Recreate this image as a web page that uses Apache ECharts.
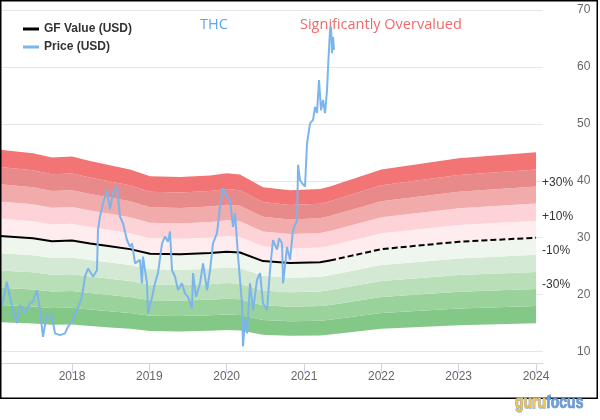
<!DOCTYPE html>
<html><head><meta charset="utf-8">
<script src="https://cdn.jsdelivr.net/npm/echarts@6/dist/echarts.min.js"></script>
<style>html,body{margin:0;padding:0;background:#fff}#c{width:600px;height:420px}</style>
</head><body><div id="c"></div>
<script>
// ---- data (decimal years) ----
const priceYears = [2017.069,2017.112,2017.156,2017.198,2017.237,2017.289,2017.327,2017.392,2017.457,2017.496,
2017.547,2017.586,2017.625,2017.677,2017.741,2017.780,2017.845,2017.909,2017.948,2018.000,
2018.065,2018.129,2018.168,2018.207,2018.272,2018.323,2018.336,2018.362,2018.401,2018.453,
2018.491,2018.530,2018.556,2018.582,2018.621,2018.660,2018.711,2018.750,2018.776,2018.815,
2018.879,2018.905,2018.918,2018.970,2018.983,2019.035,2019.073,2019.112,2019.164,2019.203,
2019.241,2019.267,2019.293,2019.332,2019.371,2019.422,2019.461,2019.500,2019.552,2019.565,
2019.604,2019.655,2019.694,2019.746,2019.785,2019.823,2019.875,2019.914,2019.953,2020.004,
2020.043,2020.082,2020.108,2020.147,2020.198,2020.211,2020.237,2020.263,2020.302,2020.341,
2020.392,2020.431,2020.470,2020.522,2020.560,2020.599,2020.651,2020.677,2020.716,2020.729,
2020.780,2020.819,2020.858,2020.910,2020.923,2020.948,2020.974,2021.013,2021.039,2021.078,
2021.117,2021.142,2021.168,2021.194,2021.220,2021.246,2021.272,2021.298,2021.311,2021.336,
2021.349,2021.362,2021.375,2021.388];
const priceValues = [17.5,19.1,22.3,19.6,17.3,15.0,18.2,16.7,18.5,18.8,
20.8,17.3,12.6,16.7,16.1,13.2,12.9,13.2,14.4,15.3,
17.3,19.6,23.2,24.6,23.2,24.3,31.4,33.7,36.0,38.4,
35.0,37.8,38.4,39.0,33.7,32.5,29.6,28.4,29.0,25.5,
26.1,22.0,26.7,22.0,16.7,19.6,22.0,23.8,29.0,30.2,
29.3,31.1,24.3,23.2,20.8,22.0,20.2,19.6,17.6,23.8,
19.6,22.0,25.5,20.8,24.3,29.0,30.8,35.5,38.7,37.2,
36.6,31.9,34.3,26.7,18.5,10.9,15.6,13.2,22.0,17.3,
22.6,23.8,18.5,17.3,24.3,29.6,27.9,29.9,29.0,22.0,
28.4,26.1,31.4,33.1,42.8,40.1,39.6,39.0,46.6,50.1,
50.7,53.0,51.9,57.7,52.4,54.2,51.9,56.0,60.0,66.5,
67.1,62.4,65.3,63.0];
const gfYears  = [2017.069,2017.496,2017.741,2018.000,2018.233,2018.491,2018.750,2019.009,2019.400,2019.785,
2020.000,2020.172,2020.470,2020.819,2021.207,2021.336,2022.000,2023.000,2024.000];
const gfValues = [30.3,29.9,29.4,29.5,29.0,28.5,28.0,27.2,27.1,27.3,
27.55,27.4,25.9,25.55,25.7,26.0,28.0,29.3,30.0];
const gfEstimateFrom = 2021.336;
const yearTicks  = [2018,2019,2020,2021,2022,2023,2024];
const valueTicks = [10,20,30,40,50,60,70];
const bandLevels = [0.5,0.6,0.7,0.8,0.9,1.0,1.1,1.2,1.3,1.4,1.5];
const bandColors = ['#83c886','#9ad29b','#b8dfb8','#d4e9d4','#eef6ee','#ffecee','#fdd3d8','#f1abab','#e88a8a','#f27474'];
const pctLabels  = ['-30%','-10%','+10%','+30%'];
const pctLevels  = [0.7,0.9,1.1,1.3];

// ---- build ----
const series = [];
series.push({
  type:'custom', coordinateSystem:'cartesian2d', silent:true, z:1, animation:false,
  data: bandColors.map((c,i)=>[gfYears[0], gfValues[0], i]),
  encode:{x:0, y:1},
  renderItem:function(params, api){
    const b = api.value(2);
    const top = gfYears.map((x,i)=>api.coord([x, gfValues[i]*bandLevels[b+1]]));
    const bot = gfYears.map((x,i)=>api.coord([x, gfValues[i]*bandLevels[b]])).reverse();
    const children = [{type:'polygon', shape:{points: top.concat(bot)}, style:{fill:bandColors[b], stroke:null}}];
    const li = pctLevels.findIndex(l=>Math.abs(l-bandLevels[b+1])<1e-6);
    if (li>=0){
      const end = top[top.length-1];
      children.push({type:'text', x:end[0]+6, y:end[1]-4,
        style:{text:pctLabels[li], fill:'#333', font:'12px "Liberation Sans"', textVerticalAlign:'middle', textAlign:'left'}});
    }
    return {type:'group', children};
  }
});
const splitIdx = gfYears.indexOf(gfEstimateFrom);
series.push({
  name:'GF Value (USD)', type:'line', data: gfYears.slice(0,splitIdx+1).map((x,i)=>[x,gfValues[i]]),
  showSymbol:false, silent:true, itemStyle:{color:'#000'}, lineStyle:{color:'#000', width:2}, z:3, animation:false
});
series.push({
  name:'GF Value est', type:'line', data: gfYears.slice(splitIdx).map((x,i)=>[x,gfValues[i+splitIdx]]),
  showSymbol:false, silent:true, itemStyle:{color:'#000'}, lineStyle:{color:'#000', width:2, type:[6,3]}, z:3, animation:false
});
series.push({
  name:'Price (USD)', type:'line', data: priceYears.map((x,i)=>[x,priceValues[i]]),
  showSymbol:false, silent:true, itemStyle:{color:'#7cb5ec'}, lineStyle:{color:'#7cb5ec', width:2}, z:4, animation:false
});

const chart = echarts.init(document.getElementById('c'), null, {renderer:'canvas'});
chart.setOption({
  animation:false,
  grid:{left:0, right:57, top:10, bottom:57, containLabel:false},
  xAxis:{
    type:'value', min:2017.069, max:2024.09,
    axisLine:{show:true, lineStyle:{color:'#ccd6eb', width:1}},
    axisTick:{show:true, length:10, lineStyle:{color:'#ccd6eb'}, customValues:yearTicks},
    axisLabel:{customValues:yearTicks, formatter:v=>String(v), color:'#666', fontSize:12, fontFamily:'Liberation Sans', margin:8},
    splitLine:{show:false}
  },
  yAxis:{
    type:'value', position:'right', min:8, max:70,
    axisLine:{show:false}, axisTick:{show:false, customValues:valueTicks},
    axisLabel:{customValues:valueTicks, color:'#666', fontSize:12, fontFamily:'Liberation Sans', margin:34},
    splitLine:{show:true, lineStyle:{color:'#e6e6e6', width:1}}
  },
  legend:{
    data:['GF Value (USD)','Price (USD)'], orient:'vertical', left:18, top:17,
    icon:'rect', itemWidth:16, itemHeight:3, itemGap:4,
    textStyle:{color:'#333', fontSize:12, fontWeight:'bold', fontFamily:'Liberation Sans', lineHeight:14},
    selectedMode:false
  },
  graphic:[
    {type:'rect', shape:{x:0.75, y:0.75, width:596.5, height:397.5}, style:{fill:'none', stroke:'#000', lineWidth:1.5}, z:100, silent:true},
    {type:'text', x:200, y:25, style:{text:'THC', fill:'#5aa7f0', font:'14.5px "Open Sans"', textVerticalAlign:'middle'}},
    {type:'text', x:300, y:25, style:{text:'Significantly Overvalued', fill:'#f06a6a', font:'14.5px "Open Sans"', textVerticalAlign:'middle'}},
    {type:'text', x:515, y:403, scaleY:1.35, z:101, style:{
      text:'{a|guru}{b|focus}', textVerticalAlign:'middle',
      rich:{a:{fill:'#f4c34a', font:'bold 14px "Liberation Sans"', stroke:'#8aa8d0', lineWidth:1},
            b:{fill:'#6e9fdc', font:'bold 14px "Liberation Sans"', stroke:'#3f6fb0', lineWidth:0.5}}
    }}
  ],
  series
});
</script></body></html>
